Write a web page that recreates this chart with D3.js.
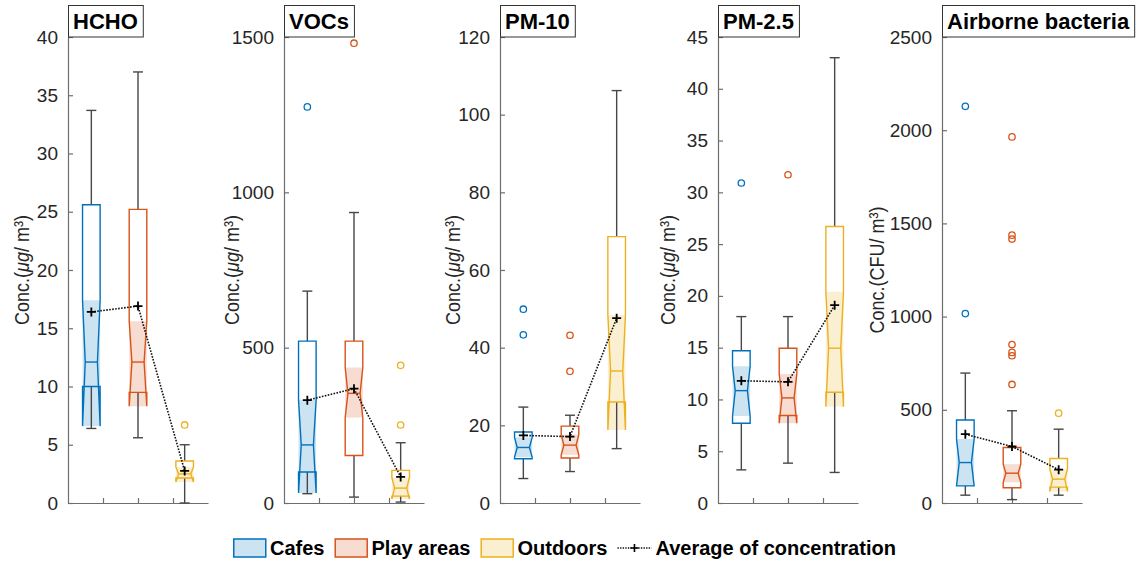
<!DOCTYPE html>
<html>
<head>
<meta charset="utf-8">
<script src="https://cdn.jsdelivr.net/npm/d3@7"></script>
<style>
  body { margin: 0; background: #fff; }
  svg { font-family: "Liberation Sans", Arial, sans-serif; }
</style>
</head>
<body>
<svg id="chart" width="1140" height="561"></svg>
<script>
// groups and pollutants
var groups = ["Cafes", "Play areas", "Outdoors"];
var pollutants = ["HCHO", "VOCs", "PM-10", "PM-2.5", "Airborne bacteria"];
var units = ["μg", "μg", "μg", "μg", "CFU"];
var yMax = [40, 1500, 120, 45, 2500];
var yTicks = [
  [0, 5, 10, 15, 20, 25, 30, 35, 40],
  [0, 500, 1000, 1500],
  [0, 20, 40, 60, 80, 100, 120],
  [0, 5, 10, 15, 20, 25, 30, 35, 40, 45],
  [0, 500, 1000, 1500, 2000, 2500]
];

// box stats: whiskers, quartiles, notch, median, mean, outliers
var hcho = [
  { lo: 6.4, q1: 10.0, nlo: 6.6, med: 12.1, nhi: 17.4, q3: 25.6, hi: 33.7, mean: 16.4, out: [] },
  { lo: 5.6, q1: 9.5, nlo: 8.3, med: 12.1, nhi: 15.6, q3: 25.2, hi: 37.0, mean: 16.9, out: [] },
  { lo: 0, q1: 2.15, nlo: 1.8, med: 2.5, nhi: 3.1, q3: 3.6, hi: 5.0, mean: 2.75, out: [6.7] }
];
var vocs = [
  { lo: 30, q1: 100, nlo: 32, med: 187, nhi: 332, q3: 521, hi: 682, mean: 331, out: [1275] },
  { lo: 19, q1: 153, nlo: 275, med: 353, nhi: 436, q3: 521, hi: 935, mean: 368, out: [1480] },
  { lo: 3, q1: 22, nlo: 13, med: 48, nhi: 82, q3: 105, hi: 194, mean: 84, out: [251, 443] }
];
var pm10 = [
  { lo: 6.3, q1: 11.4, nlo: 11.8, med: 14.3, nhi: 16.9, q3: 18.3, hi: 24.7, mean: 17.4, out: [43.3, 49.9] },
  { lo: 8.1, q1: 11.6, nlo: 12.4, med: 14.9, nhi: 17.6, q3: 19.8, hi: 22.6, mean: 17.1, out: [33.9, 43.2] },
  { lo: 14.0, q1: 26.0, nlo: 18.8, med: 34.0, nhi: 48.4, q3: 68.6, hi: 106.2, mean: 47.6, out: [] }
];
var pm25 = [
  { lo: 3.2, q1: 7.7, nlo: 8.4, med: 10.85, nhi: 13.2, q3: 14.7, hi: 18.0, mean: 11.8, out: [30.9] },
  { lo: 3.85, q1: 8.45, nlo: 7.7, med: 10.15, nhi: 12.45, q3: 14.95, hi: 18.0, mean: 11.7, out: [31.7] },
  { lo: 2.95, q1: 10.7, nlo: 9.3, med: 14.95, nhi: 20.4, q3: 26.7, hi: 43.0, mean: 19.1, out: [] }
];
var bact = [
  { lo: 42, q1: 92, nlo: 92, med: 217, nhi: 343, q3: 445, hi: 697, mean: 369, out: [1016, 2128] },
  { lo: 18, q1: 82, nlo: 111, med: 160, nhi: 208, q3: 298, hi: 495, mean: 303, out: [636, 790, 808, 850, 1416, 1437, 1964] },
  { lo: 42, q1: 85, nlo: 62, med: 128, nhi: 180, q3: 239, hi: 396, mean: 179, out: [482] }
];
var stats = [hcho, vocs, pm10, pm25, bact];

var colors = ["#0072BD", "#D95319", "#EDB120"];
var fills = ["#cce3f2", "#f7dcd1", "#fbefd2"];

// layout
var panelLeft = [68, 284, 500, 718, 942],
    labelDx = [46, 52, 47, 50, 65],
    axisW = 140,
    yTop = 37,
    yBot = 503,
    hw = 8.8,
    inset = 2.7,
    capW = 5;

var svg = d3.select("#chart");

pollutants.forEach(function (name, i) {
  var left = panelLeft[i];
  var g = svg.append("g");

  var y = d3.scaleLinear().domain([0, yMax[i]]).range([yBot, yTop]);
  var xt = d3.scaleLinear().domain([0, 1]).range([left, left + axisW]);
  var x = d3.scalePoint().domain(groups).range([left, left + axisW]).padding(0.5);

  // axes
  var ya = g.append("g")
    .attr("transform", "translate(" + left + ",0)")
    .call(d3.axisLeft(y).tickValues(yTicks[i]).tickFormat(d3.format("d"))
      .tickSize(-5).tickSizeOuter(0).tickPadding(10));
  var xa = g.append("g")
    .attr("transform", "translate(0," + yBot + ")")
    .call(d3.axisBottom(xt).tickValues([0.25, 0.5, 0.75]).tickSize(-5).tickSizeOuter(0).tickFormat(""));
  [ya, xa].forEach(function (a) {
    a.select(".domain").attr("stroke", "#6e6e6e").attr("stroke-width", 1.2);
    a.selectAll(".tick line").attr("stroke", "#6e6e6e").attr("stroke-width", 1.2);
  });
  ya.selectAll(".tick text")
    .attr("font-size", 19)
    .attr("fill", "#262626")
    .attr("font-family", "Liberation Sans, Arial, sans-serif");

  // y label
  var lab = g.append("text")
    .attr("transform", "translate(" + (left - labelDx[i]) + "," + ((yTop + yBot) / 2) + ") rotate(-90)")
    .attr("text-anchor", "middle")
    .attr("dy", "0.35em")
    .attr("font-size", 18)
    .attr("fill", "#262626");
  lab.append("tspan").text("Conc.(");
  lab.append("tspan").attr("font-style", units[i] == "μg" ? "italic" : null).text(units[i]);
  lab.append("tspan").text("/ m³)");
  var natural = lab.node().getComputedTextLength();
  lab.attr("font-size", 20)
    .attr("textLength", natural)
    .attr("lengthAdjust", "spacingAndGlyphs");

  // boxes
  stats[i].forEach(function (d, j) {
    var cx = x(groups[j]);
    var bg = g.append("g");

    bg.append("rect")
      .attr("x", cx - hw).attr("width", hw * 2)
      .attr("y", y(d.nhi)).attr("height", y(d.nlo) - y(d.nhi))
      .attr("fill", fills[j]);

    // whiskers
    bg.append("line").attr("x1", cx).attr("x2", cx).attr("y1", y(d.q3)).attr("y2", y(d.hi))
      .attr("stroke", "#474747").attr("stroke-width", 1.4);
    bg.append("line").attr("x1", cx).attr("x2", cx).attr("y1", y(d.q1)).attr("y2", y(d.lo))
      .attr("stroke", "#474747").attr("stroke-width", 1.4);
    [d.hi, d.lo].forEach(function (v) {
      bg.append("line").attr("x1", cx - capW).attr("x2", cx + capW).attr("y1", y(v)).attr("y2", y(v))
        .attr("stroke", "#474747").attr("stroke-width", 1.4);
    });

    // notched outline
    var pts = [
      [cx - hw, d.q3], [cx - hw, d.nhi], [cx - hw + inset, d.med], [cx - hw, d.nlo], [cx - hw, d.q1],
      [cx + hw, d.q1], [cx + hw, d.nlo], [cx + hw - inset, d.med], [cx + hw, d.nhi], [cx + hw, d.q3]
    ];
    bg.append("path")
      .attr("d", d3.line().x(function (p) { return p[0]; }).y(function (p) { return y(p[1]); })(pts) + "Z")
      .attr("fill", "none")
      .attr("stroke", colors[j])
      .attr("stroke-width", 1.4);
    bg.append("line")
      .attr("x1", cx - hw + inset).attr("x2", cx + hw - inset)
      .attr("y1", y(d.med)).attr("y2", y(d.med))
      .attr("stroke", colors[j]).attr("stroke-width", 1.4);

    bg.selectAll("circle").data(d.out).enter().append("circle")
      .attr("cx", cx).attr("cy", function (v) { return y(v); })
      .attr("r", 3.2)
      .attr("fill", "none")
      .attr("stroke", colors[j])
      .attr("stroke-width", 1.3);
  });

  // mean line and markers
  var means = stats[i].map(function (d, j) { return [x(groups[j]), y(d.mean)]; });
  g.append("path")
    .attr("d", d3.line()(means))
    .attr("fill", "none")
    .attr("stroke", "#111")
    .attr("stroke-width", 1.6)
    .attr("stroke-dasharray", "1.6,1.4");
  g.selectAll(".mk").data(means).enter().append("path")
    .attr("d", function (p) { return "M" + (p[0] - 4.5) + "," + p[1] + "h9M" + p[0] + "," + (p[1] - 4.5) + "v9"; })
    .attr("stroke", "#000")
    .attr("stroke-width", 1.8);

  // title box
  var tg = g.append("g");
  var tbox = tg.append("rect")
    .attr("x", left + 0.5).attr("y", 5.5)
    .attr("height", 31.5)
    .attr("fill", "#fff")
    .attr("stroke", "#333")
    .attr("stroke-width", 1);
  var tt = tg.append("text")
    .attr("x", left + 5).attr("y", 21)
    .attr("dy", "0.36em")
    .attr("font-size", 22)
    .attr("font-weight", "bold")
    .attr("fill", "#000")
    .text(name);
  tbox.attr("width", tt.node().getComputedTextLength() + 10);
});

// legend
var leg = svg.append("g").attr("font-size", 20).attr("font-weight", "bold");
var lx = 233, ly = 548;
groups.forEach(function (name, j) {
  leg.append("rect")
    .attr("x", lx + 0.75).attr("y", ly - 9)
    .attr("width", 32).attr("height", 18)
    .attr("fill", fills[j])
    .attr("stroke", colors[j])
    .attr("stroke-width", 1.5);
  var t = leg.append("text").attr("x", lx + 37).attr("y", ly).attr("dy", "0.36em").text(name);
  lx += 37 + t.node().getComputedTextLength() + 10;
});
leg.append("line")
  .attr("x1", lx).attr("x2", lx + 34).attr("y1", ly).attr("y2", ly)
  .attr("stroke", "#111").attr("stroke-width", 1.4).attr("stroke-dasharray", "1.4,1.2");
leg.append("path")
  .attr("d", "M" + (lx + 13) + "," + ly + "h8M" + (lx + 17) + "," + (ly - 4) + "v8")
  .attr("stroke", "#000").attr("stroke-width", 1.6);
leg.append("text").attr("x", lx + 38).attr("y", ly).attr("dy", "0.36em").text("Average of concentration");
</script>
</body>
</html>
